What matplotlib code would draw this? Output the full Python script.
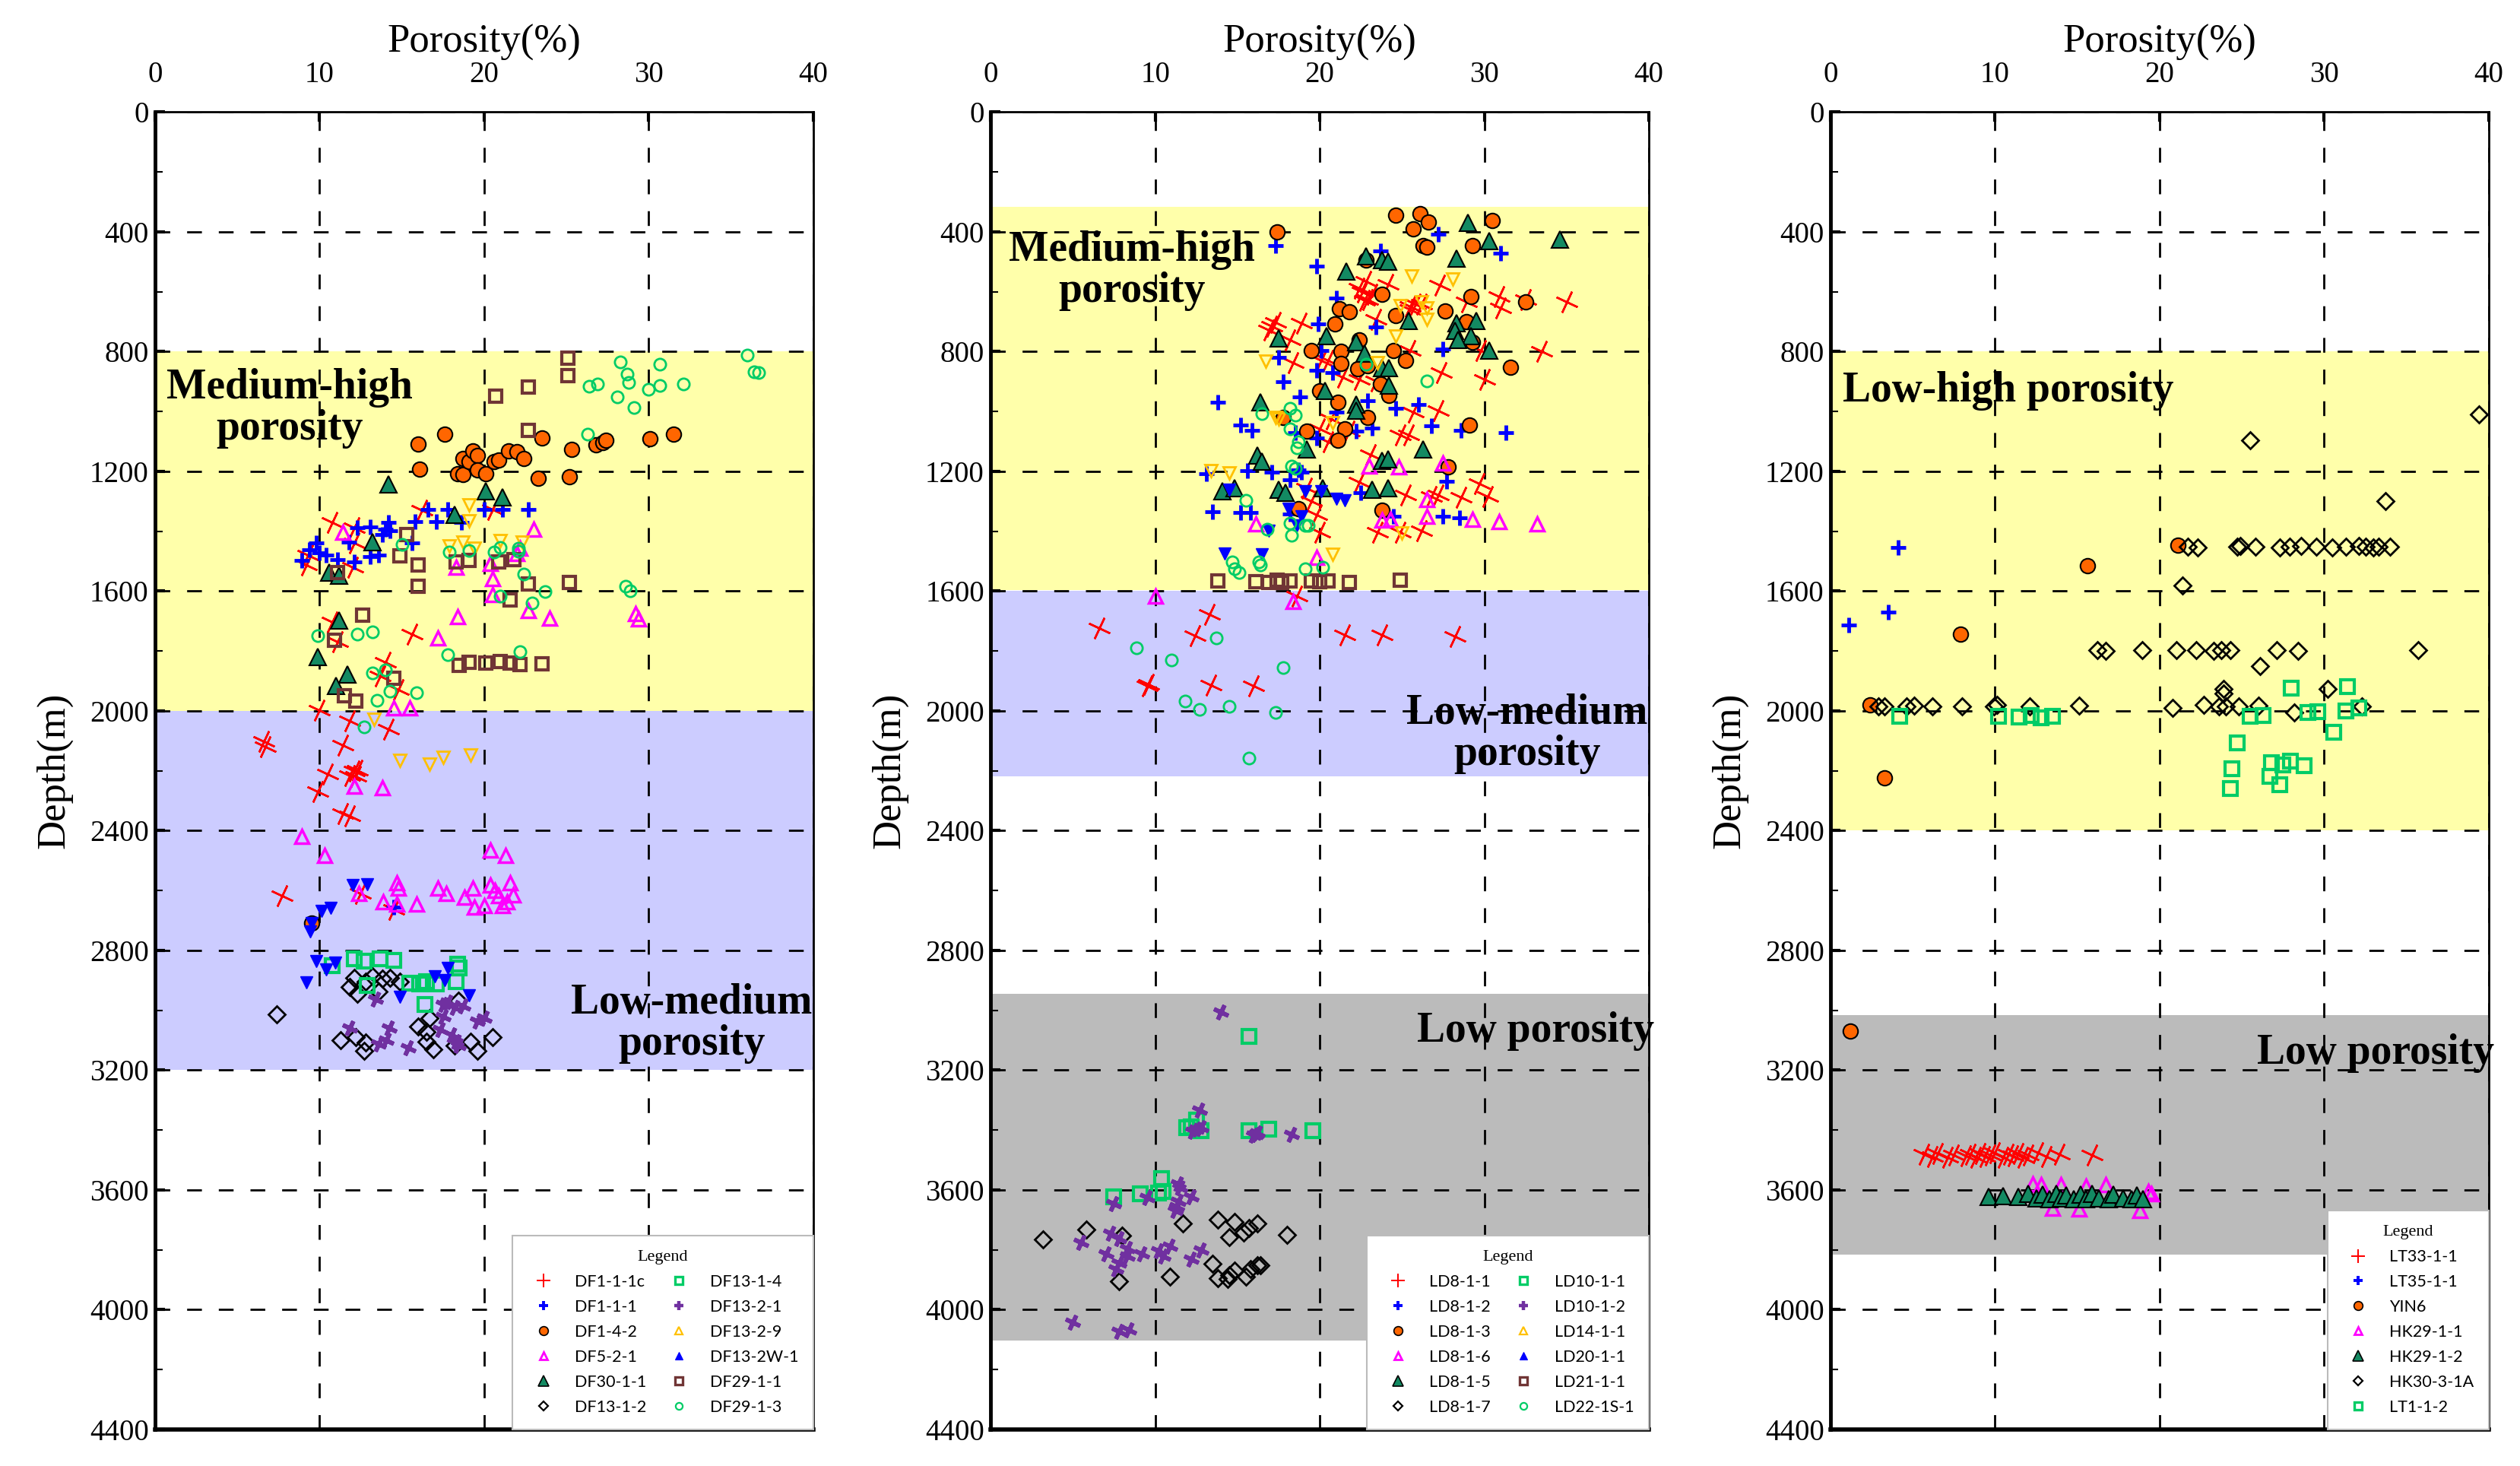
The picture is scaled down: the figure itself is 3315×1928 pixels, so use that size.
import numpy as np
import matplotlib
matplotlib.use('Agg')
import matplotlib.pyplot as plt
from matplotlib.lines import Line2D

plt.rcParams['font.family'] = ['Liberation Serif', 'DejaVu Serif']
plt.rcParams['lines.scale_dashes'] = False

# ---------------- panel 1 (DF wells) ----------------
df1_1_1c_por = [16.2, 20.5, 10.75, 12.1, 12.1, 9.3, 9.2, 12.0, 10.75, 11.1, 15.6, 14.0, 13.7, 14.8, 10.0, 11.85,
                14.2, 6.6, 6.7, 11.4, 10.5, 12.1, 11.85, 12.3, 12.2, 9.9, 11.4, 11.85, 7.7, 12.5, 14.5]
df1_1_1c_dep = [1330, 1328, 1371, 1389, 1439, 1480, 1512, 1521, 1702, 1770, 1743, 1838, 1884, 1929, 1997, 2033,
                2061, 2101, 2120, 2115, 2210, 2201, 2215, 2197, 2219, 2269, 2342, 2351, 2618, 2609, 2664]
df1_1_1_por = [16.6, 17.8, 20.0, 21.1, 22.7, 15.8, 17.1, 18.6, 12.3, 13.1, 14.2, 14.3, 13.8, 11.8, 15.6, 9.8, 9.4,
               10.0, 10.4, 11.1, 12.1, 13.1, 13.6, 8.9, 14.0, 14.5]
df1_1_1_dep = [1328, 1328, 1326, 1328, 1326, 1367, 1367, 1371, 1389, 1385, 1371, 1398, 1412, 1437, 1439, 1439, 1462,
               1471, 1480, 1494, 1503, 1485, 1480, 1496, 1394, 2655]
df1_4_2_por = [16.0, 17.6, 16.1, 18.4, 18.7, 18.7, 19.1, 19.3, 19.6, 19.6, 20.1, 20.6, 20.9, 21.5, 22.0, 22.4, 23.5,
               23.3, 25.2, 25.3, 26.8, 27.2, 27.4, 30.1, 31.5, 9.5]
df1_4_2_dep = [1108, 1075, 1192, 1208, 1211, 1156, 1167, 1131, 1147, 1196, 1208, 1167, 1163, 1131, 1135, 1158, 1088,
               1224, 1217, 1126, 1111, 1104, 1095, 1090, 1075, 2709]
df5_2_1_por = [11.4, 23.0, 18.3, 20.4, 20.5, 20.5, 22.2, 22.0, 18.4, 17.2, 22.7, 24.0, 29.2, 29.4, 14.5, 15.5, 12.1,
               13.8, 8.9, 10.3, 12.4, 13.85, 14.7, 14.8, 14.7, 15.9, 17.2, 17.7, 18.8, 19.3, 19.4, 20.0, 20.4, 21.3,
               20.4, 20.65, 20.9, 21.4, 21.6, 21.75, 21.1]
df5_2_1_dep = [1403, 1392, 1519, 1507, 1557, 1611, 1457, 1474, 1684, 1757, 1666, 1689, 1675, 1693, 1990, 1990, 2251,
               2256, 2419, 2482, 2609, 2637, 2573, 2591, 2646, 2646, 2591, 2609, 2623, 2591, 2655, 2650, 2464, 2482,
               2582, 2600, 2618, 2637, 2573, 2614, 2650]
df30_1_1_por = [14.2, 20.1, 21.1, 18.2, 13.2, 10.6, 11.2, 11.2, 9.9, 11.7, 11.0]
df30_1_1_dep = [1244, 1267, 1287, 1344, 1436, 1539, 1548, 1698, 1820, 1879, 1915]
df13_1_2_por = [7.4, 12.1, 11.85, 12.3, 13.2, 13.8, 14.3, 14.9, 12.8, 13.6, 11.3, 12.2, 12.7, 12.8, 16.0, 16.5, 16.9,
                16.7, 18.45, 18.2, 19.2, 19.6, 20.5, 16.5]
df13_1_2_dep = [3013, 2891, 2922, 2945, 2886, 2895, 2891, 2904, 2904, 2936, 3099, 3090, 3135, 3108, 3054, 3104, 3131,
                3027, 2968, 3117, 3104, 3135, 3090, 3072]
df13_1_4_por = [12.1, 12.7, 13.7, 14.5, 10.75, 12.9, 15.5, 16.1, 16.5, 17.1, 18.3, 18.4, 18.5, 16.4]
df13_1_4_dep = [2827, 2836, 2827, 2832, 2850, 2918, 2909, 2913, 2904, 2913, 2904, 2845, 2859, 2981]
df13_2_1_por = [13.4, 11.85, 14.25, 14.05, 13.6, 15.4, 17.5, 17.8, 18.2, 18.7, 17.5, 17.35, 18.0, 18.3, 19.6, 20.0, 18.45]
df13_2_1_dep = [2963, 3058, 3058, 3099, 3113, 3126, 2981, 2972, 2990, 2986, 3022, 3063, 3081, 3104, 3036, 3027, 3117]
df13_2_9_por = [19.1, 19.1, 18.7, 17.9, 19.4, 21.0, 22.3, 13.3, 14.9, 16.7, 17.5, 19.2]
df13_2_9_dep = [1312, 1365, 1435, 1448, 1457, 1430, 1437, 2029, 2165, 2179, 2156, 2147]
df13_2w_1_por = [12.0, 12.9, 10.1, 10.7, 9.5, 9.45, 9.8, 10.4, 10.95, 9.2, 14.9, 17.0, 17.6, 17.8, 19.1]
df13_2w_1_dep = [2582, 2578, 2668, 2659, 2709, 2736, 2836, 2863, 2841, 2907, 2954, 2886, 2900, 2859, 2950]
df29_1_1_por = [25.1, 25.1, 22.7, 20.7, 22.7, 15.3, 14.9, 16.0, 16.0, 18.3, 19.1, 20.9, 21.8, 22.7, 25.2, 21.6, 12.6,
                10.9, 14.5, 11.5, 12.2, 18.5, 19.1, 20.1, 21.0, 21.6, 22.2, 23.5, 11.1]
df29_1_1_dep = [822, 879, 919, 949, 1063, 1410, 1483, 1512, 1584, 1503, 1496, 1501, 1495, 1575, 1572, 1630, 1681,
                1763, 1891, 1949, 1967, 1847, 1838, 1841, 1834, 1840, 1845, 1843, 1539]
df29_1_3_por = [28.3, 30.7, 36.0, 36.4, 36.7, 28.7, 28.8, 26.4, 26.9, 28.1, 29.1, 30.0, 30.7, 32.1, 26.3, 15.0, 17.9,
                19.1, 20.6, 21.0, 22.1, 22.1, 22.4, 28.6, 28.9, 23.7, 21.0, 22.9, 9.9, 12.3, 13.2, 13.2, 14.0, 17.8,
                22.2, 14.3, 15.9, 13.5, 12.7]
df29_1_3_dep = [834, 842, 812, 868, 870, 875, 904, 916, 907, 951, 986, 927, 913, 909, 1075, 1445, 1469, 1464, 1468,
                1455, 1457, 1466, 1542, 1584, 1598, 1602, 1616, 1639, 1749, 1743, 1736, 1872, 1863, 1811, 1802, 1933,
                1938, 1965, 2054]

# ---------------- panel 2 (LD wells) ----------------
ld8_1_1_por = [17.1, 16.9, 17.3, 18.9, 18.2, 18.4, 22.4, 22.6, 22.9, 22.7, 23.2, 22.8, 23.4, 20.5, 20.1, 21.4, 22.4,
               23.4, 20.7, 20.0, 20.5, 21.8, 19.2, 19.5, 19.8, 20.0, 23.5, 22.4, 23.1,
               24.15, 27.3, 28.9, 30.9, 31.0, 32.5, 35.0, 25.5, 25.8, 25.5, 26.2, 27.4, 30.0, 33.5, 25.5, 27.2, 25.7,
               24.9, 25.4, 29.8, 29.7, 30.2, 25.2, 26.8, 27.2, 28.6, 26.2, 24.9,
               6.6, 13.3, 12.4, 18.6, 21.5, 23.8, 9.5, 9.6, 13.4, 16.0, 28.2]
ld8_1_1_dep = [714, 727, 701, 706, 761, 837, 587, 600, 625, 629, 608, 565, 693, 829, 829, 884, 892, 897, 1024, 1058,
               1100, 1066, 1257, 1300, 1346, 1402, 1402, 1236, 1143,
               574, 578, 633, 616, 654, 625, 633, 650, 642, 659, 642, 871, 892, 799, 795, 998, 1003, 1079, 1079, 795,
               1240, 1283, 1278, 1283, 1278, 1287, 1397, 1402,
               1724, 1677, 1749, 1617, 1745, 1745, 1915, 1910, 1913, 1915, 1750]
ld8_1_2_por = [17.3, 19.8, 21.0, 19.9, 23.4, 17.5, 20.1, 19.8, 20.8, 17.8, 18.8, 13.8, 15.2, 15.9, 21.0, 22.9, 23.2,
               22.2, 19.8, 18.5, 13.1, 15.6, 17.1, 18.2, 18.7, 18.9, 13.5, 15.2, 15.8, 18.2, 22.5, 23.7, 27.2, 31.0,
               27.5, 24.6, 26.0, 26.8, 28.6, 31.3, 27.7, 24.5, 27.5, 28.5]
ld8_1_2_dep = [447, 515, 621, 707, 717, 819, 795, 863, 871, 901, 952, 969, 1045, 1062, 1003, 964, 1054, 1066, 1088,
               1071, 1207, 1198, 1202, 1228, 1194, 1202, 1334, 1338, 1338, 1342, 1270, 464, 408, 470, 792, 990, 977,
               1047, 1064, 1071, 1234, 1351, 1351, 1355]
ld8_1_3_por = [17.4, 22.8, 23.8, 21.2, 21.8, 20.9, 22.4, 19.5, 21.3, 21.3, 22.3, 22.9, 20.0, 21.1, 22.9, 21.5, 21.1,
               19.2, 17.8, 18.7, 23.8, 23.7, 24.6, 26.1, 26.6, 25.7, 26.3, 26.5, 29.3, 30.5, 29.2, 27.6, 24.6, 32.5,
               28.9, 29.3, 24.5, 25.2, 31.6, 24.2, 29.1, 27.8]
ld8_1_3_dep = [400, 493, 608, 657, 667, 707, 761, 795, 799, 840, 856, 846, 931, 969, 1020, 1058, 1096, 1066, 1020,
               1325, 1330, 909, 345, 340, 368, 391, 445, 451, 447, 363, 616, 663, 680, 633, 700, 769, 795, 829, 851,
               947, 1045, 1184]
ld8_1_6_por = [23.0, 16.1, 19.8, 23.8, 24.8, 27.5, 26.5, 26.5, 24.3, 29.3, 30.9, 33.2, 10.0, 18.4]
ld8_1_6_dep = [1181, 1376, 1486, 1363, 1185, 1172, 1295, 1351, 1359, 1359, 1367, 1376, 1617, 1634]
ld8_1_5_por = [22.8, 21.6, 17.5, 20.4, 22.2, 22.7, 23.8, 20.3, 22.2, 22.2, 16.4, 19.2, 16.2, 16.5, 14.1, 14.8, 17.5,
               17.9, 20.2, 23.2, 23.8, 23.8, 29.0, 30.3, 34.6, 28.3, 24.15, 25.4, 28.3, 29.5, 28.2, 29.2, 28.4, 30.3,
               24.2, 24.2, 26.3, 24.15, 24.15]
ld8_1_5_dep = [481, 531, 756, 748, 769, 807, 854, 931, 977, 998, 969, 1126, 1147, 1168, 1266, 1257, 1261, 1270, 1257,
               1261, 1164, 493, 370, 430, 425, 489, 498, 697, 706, 697, 731, 748, 761, 795, 854, 914, 1126, 1160, 1257]
ld8_1_7_por = [3.2, 5.8, 8.0, 11.7, 13.8, 14.8, 16.2, 15.4, 14.5, 15.7, 18.0, 13.5, 13.8, 14.4, 14.8, 15.5, 15.8,
               16.2, 16.4, 14.5, 10.9, 7.8]
ld8_1_7_dep = [3766, 3732, 3753, 3711, 3698, 3707, 3711, 3741, 3758, 3728, 3749, 3847, 3894, 3898, 3868, 3889, 3864,
               3851, 3851, 3885, 3889, 3906]
ld10_1_1_por = [15.7, 11.9, 12.5, 12.8, 12.2, 15.7, 16.9, 19.6, 7.5, 9.1, 10.2, 10.4, 10.5]
ld10_1_1_dep = [3087, 3393, 3367, 3401, 3388, 3401, 3397, 3401, 3622, 3613, 3609, 3562, 3605]
ld10_1_2_por = [14.0, 12.7, 12.5, 12.3, 12.8, 16.1, 16.2, 16.0, 18.3, 11.4, 11.5, 12.2, 9.5, 7.5, 11.4, 11.2, 11.3,
                7.3, 7.8, 5.5, 7.0, 8.3, 8.3, 7.8, 7.6, 9.2, 10.2, 10.5, 10.9, 12.2, 12.8, 5.0, 7.8, 8.4]
ld10_1_2_dep = [3005, 3333, 3397, 3405, 3393, 3414, 3410, 3418, 3414, 3579, 3592, 3622, 3626, 3647, 3639, 3669, 3656,
                3745, 3762, 3775, 3813, 3796, 3821, 3843, 3864, 3813, 3804, 3821, 3787, 3830, 3800, 4042, 4072, 4068]
ld14_1_1_por = [16.7, 17.3, 17.5, 13.4, 14.5, 23.5, 20.8, 20.8, 25.6, 28.1, 24.9, 26.2, 26.5, 26.5, 24.6, 25.0]
ld14_1_1_dep = [833, 1020, 1024, 1198, 1206, 837, 1037, 1478, 548, 557, 646, 633, 654, 693, 748, 1406]
ld20_1_1_por = [14.5, 19.1, 20.1, 21.0, 21.5, 18.1, 18.9, 16.9, 14.2, 16.5, 18.6]
ld20_1_1_dep = [1262, 1266, 1266, 1291, 1296, 1325, 1351, 1397, 1474, 1478, 1380]
ld21_1_1_por = [13.8, 16.1, 16.9, 17.4, 17.7, 18.2, 19.5, 20.0, 20.5, 21.8, 24.9]
ld21_1_1_dep = [1565, 1568, 1570, 1562, 1572, 1566, 1565, 1568, 1566, 1570, 1562]
ld22_1s_1_por = [16.5, 18.2, 18.5, 18.2, 18.7, 18.6, 18.3, 18.5, 15.5, 16.8, 18.2, 18.3, 19.1, 19.3, 22.8, 14.7, 14.8,
                 15.1, 16.3, 16.4, 19.1, 20.2, 26.5, 8.85, 11.0, 13.7, 17.8, 11.8, 12.7, 14.5, 17.3, 15.7]
ld22_1s_1_dep = [1007, 990, 1011, 1058, 1100, 1122, 1181, 1189, 1296, 1393, 1372, 1414, 1380, 1380, 841, 1503, 1525,
                 1538, 1503, 1512, 1525, 1520, 898, 1789, 1830, 1756, 1855, 1966, 1995, 1984, 2004, 2157]

# ---------------- panel 3 ----------------
lt33_1_1_por = [5.7, 6.2, 6.5, 7.1, 7.5, 8.2, 8.5, 8.8, 9.1, 9.4, 9.7, 10.0, 10.5, 10.8, 11.1, 11.4, 11.7, 12.0, 12.6,
                13.1, 13.9, 15.9]
lt33_1_1_dep = [3480, 3488, 3478, 3490, 3482, 3486, 3480, 3492, 3478, 3488, 3482, 3476, 3490, 3480, 3486, 3478, 3490,
                3482, 3476, 3488, 3480, 3484]
lt35_1_1_por = [4.1, 3.5, 1.1]
lt35_1_1_dep = [1455, 1671, 1714]
yin6_por = [21.1, 15.6, 7.9, 2.4, 3.3, 1.2]
yin6_dep = [1446, 1516, 1744, 1980, 2223, 3070]
hk29_1_1_por = [12.3, 12.8, 14.0, 15.5, 16.7, 13.5, 15.1, 18.8, 19.3, 19.5]
hk29_1_1_dep = [3579, 3583, 3583, 3587, 3583, 3660, 3664, 3668, 3604, 3613]
hk29_1_2_por = [9.6, 10.5, 11.4, 12.0, 12.5, 12.9, 13.3, 13.7, 14.0, 14.3, 14.8, 15.2, 15.5, 15.9, 16.3, 16.9, 17.2,
                17.8, 18.3, 18.6, 19.0]
hk29_1_2_dep = [3622, 3620, 3622, 3612, 3628, 3615, 3630, 3612, 3628, 3618, 3630, 3615, 3630, 3612, 3628, 3630, 3615,
                3628, 3630, 3618, 3630]
hk30_3_1a_por = [39.4, 25.5, 33.7,
                 21.7, 22.3, 24.7, 24.9, 25.8, 27.3, 27.9, 28.6, 29.5, 30.5, 31.3, 32.1, 32.5, 33.0, 33.3, 34.0,
                 21.4,
                 16.2, 16.7, 18.95, 21.0, 22.2, 23.3, 23.75, 24.3, 27.1, 28.4, 35.7,
                 26.1, 23.9, 23.9, 30.2,
                 2.9, 3.3, 4.6, 5.1, 6.2, 8.0, 9.95, 10.1, 12.1, 15.1, 20.8, 22.7, 23.6, 24.0, 24.8, 26.0, 32.3,
                 28.2]
hk30_3_1a_dep = [1009, 1096, 1300,
                 1452, 1455, 1452, 1450, 1452, 1454, 1452, 1450, 1452, 1455, 1452, 1450, 1452, 1454, 1452, 1452,
                 1580,
                 1798, 1800, 1798, 1796, 1798, 1800, 1798, 1796, 1798, 1800, 1796,
                 1850, 1927, 1941, 1926,
                 1984, 1986, 1984, 1982, 1984, 1986, 1984, 1980, 1984, 1982, 1990, 1980, 1984, 1986, 1984, 1982, 1984,
                 2005]
lt1_1_2_por = [4.2, 10.2, 11.45, 12.2, 12.8, 13.5, 25.5, 26.3, 28.0, 31.4, 29.0, 29.6, 31.3, 32.1, 30.6, 24.7, 24.4,
               26.8, 27.5, 27.95, 28.8, 26.7, 24.3, 27.3]
lt1_1_2_dep = [2018, 2018, 2020, 2016, 2022, 2018, 2018, 2015, 1923, 1918, 2005, 2002, 2000, 1989, 2071, 2107, 2194,
               2173, 2180, 2168, 2182, 2218, 2259, 2246]

# marker styles (lm = marker shown in the legend box)
st = {
    'red': dict(marker=(4, 2, -25), ms=22, mfc='none', mec='#FF0000', mew=1.8, lm='+'),
    'blue': dict(marker='+', ms=14, mfc='none', mec='#0000FF', mew=3.5),
    'orange': dict(marker='o', ms=14, mfc='#FF6600', mec='k', mew=1.5),
    'magenta': dict(marker='^', ms=13, mfc='none', mec='#FF00FF', mew=2.5),
    'greentri': dict(marker='^', ms=16, mfc='#138A62', mec='k', mew=1.5),
    'diamond': dict(marker='D', ms=11, mfc='none', mec='k', mew=2),
    'greensq': dict(marker='s', ms=13, mfc='none', mec='#00CC66', mew=3),
    'purple': dict(marker=(4, 2, -25), ms=15, mfc='none', mec='#7030A0', mew=4, lm='+'),
    'yellow': dict(marker='v', ms=11, mfc='none', mec='#FFC000', mew=2, lm='^'),
    'bluetri': dict(marker='v', ms=12, mfc='#0000FF', mec='#0000FF', mew=1, lm='^'),
    'brown': dict(marker='s', ms=11, mfc='none', mec='#703535', mew=3),
    'greencirc': dict(marker='o', ms=11, mfc='none', mec='#00CC66', mew=2),
}

YEL = '#FFFFAA'
LAV = '#CCCCFF'
GRY = '#BBBBBB'


def draw(ax, x, y, key, label, handles):
    s = dict(st[key])
    lm = s.pop('lm', s['marker'])
    ax.plot(x, y, ls='none', zorder=3, **s)
    hs = dict(s)
    hs['marker'] = lm
    hs['ms'] = s['ms'] * 0.6
    hs['mew'] = s['mew'] * 0.8
    handles.append(Line2D([], [], ls='none', label=label, **hs))


def setup(ax):
    ax.set_xlim(0, 40)
    ax.set_ylim(4400, 0)
    ax.xaxis.tick_top()
    ax.xaxis.set_label_position('top')
    ax.set_xticks([0, 10, 20, 30, 40])
    ax.set_yticks(np.arange(0, 4401, 400))
    ax.set_yticks(np.arange(200, 4400, 400), minor=True)
    ax.set_axisbelow(True)
    ax.grid(True, which='major', color='k', lw=2, ls=(0, (14, 16)))
    ax.tick_params(which='major', direction='in', length=9, width=3, labelsize=28)
    ax.tick_params(axis='y', which='major', pad=6)
    ax.tick_params(axis='x', which='major', pad=22)
    ax.tick_params(which='minor', direction='in', length=7, width=1.5)
    ax.set_xlabel('Porosity(%)', fontsize=38, labelpad=8)
    ax.set_ylabel('Depth(m)', fontsize=38, labelpad=16)
    for sp in ax.spines.values():
        sp.set_linewidth(2)
    ax.spines['left'].set_linewidth(3.5)
    ax.spines['bottom'].set_linewidth(4)


def legend(ax, handles, ncol):
    leg = ax.legend(handles=handles, loc='lower right', bbox_to_anchor=(1, 0), ncol=ncol, title='Legend',
                    prop={'family': 'Lato', 'size': 15.5},
                    title_fontproperties={'family': 'Liberation Serif', 'size': 16},
                    fancybox=False, framealpha=1, edgecolor='#BBBBBB', borderaxespad=0,
                    columnspacing=1.0, handletextpad=0.9, labelspacing=0.6, borderpad=0.9)
    leg.get_frame().set_linewidth(1.5)
    leg.set_zorder(10)


def label(ax, x, y, s):
    ax.text(x, y, s, ha='center', va='center', fontsize=40, fontweight='bold', linespacing=1.05, zorder=5)


fig = plt.figure(figsize=(33.15, 19.28), dpi=100)
ax1 = fig.add_axes([0.0615, 0.0249, 0.2612, 0.8986])
ax2 = fig.add_axes([0.3931, 0.0249, 0.2612, 0.8986])
ax3 = fig.add_axes([0.7264, 0.0249, 0.2612, 0.8986])

# panel 1
setup(ax1)
ax1.axhspan(800, 2000, color=YEL, zorder=0, lw=0)
ax1.axhspan(2000, 3200, color=LAV, zorder=0, lw=0)
h1 = []
draw(ax1, df1_1_1c_por, df1_1_1c_dep, 'red', 'DF1-1-1c', h1)
draw(ax1, df1_1_1_por, df1_1_1_dep, 'blue', 'DF1-1-1', h1)
draw(ax1, df1_4_2_por, df1_4_2_dep, 'orange', 'DF1-4-2', h1)
draw(ax1, df5_2_1_por, df5_2_1_dep, 'magenta', 'DF5-2-1', h1)
draw(ax1, df30_1_1_por, df30_1_1_dep, 'greentri', 'DF30-1-1', h1)
draw(ax1, df13_1_2_por, df13_1_2_dep, 'diamond', 'DF13-1-2', h1)
draw(ax1, df13_1_4_por, df13_1_4_dep, 'greensq', 'DF13-1-4', h1)
draw(ax1, df13_2_1_por, df13_2_1_dep, 'purple', 'DF13-2-1', h1)
draw(ax1, df13_2_9_por, df13_2_9_dep, 'yellow', 'DF13-2-9', h1)
draw(ax1, df13_2w_1_por, df13_2w_1_dep, 'bluetri', 'DF13-2W-1', h1)
draw(ax1, df29_1_1_por, df29_1_1_dep, 'brown', 'DF29-1-1', h1)
draw(ax1, df29_1_3_por, df29_1_3_dep, 'greencirc', 'DF29-1-3', h1)
label(ax1, 8.2, 990, 'Medium-high\nporosity')
label(ax1, 32.6, 3045, 'Low-medium\nporosity')
legend(ax1, h1, 2)

# panel 2
setup(ax2)
ax2.axhspan(315, 1595, color=YEL, zorder=0, lw=0)
ax2.axhspan(1600, 2218, color=LAV, zorder=0, lw=0)
ax2.axhspan(2945, 4102, color=GRY, zorder=0, lw=0)
h2 = []
draw(ax2, ld8_1_1_por, ld8_1_1_dep, 'red', 'LD8-1-1', h2)
draw(ax2, ld8_1_2_por, ld8_1_2_dep, 'blue', 'LD8-1-2', h2)
draw(ax2, ld8_1_3_por, ld8_1_3_dep, 'orange', 'LD8-1-3', h2)
draw(ax2, ld8_1_6_por, ld8_1_6_dep, 'magenta', 'LD8-1-6', h2)
draw(ax2, ld8_1_5_por, ld8_1_5_dep, 'greentri', 'LD8-1-5', h2)
draw(ax2, ld8_1_7_por, ld8_1_7_dep, 'diamond', 'LD8-1-7', h2)
draw(ax2, ld10_1_1_por, ld10_1_1_dep, 'greensq', 'LD10-1-1', h2)
draw(ax2, ld10_1_2_por, ld10_1_2_dep, 'purple', 'LD10-1-2', h2)
draw(ax2, ld14_1_1_por, ld14_1_1_dep, 'yellow', 'LD14-1-1', h2)
draw(ax2, ld20_1_1_por, ld20_1_1_dep, 'bluetri', 'LD20-1-1', h2)
draw(ax2, ld21_1_1_por, ld21_1_1_dep, 'brown', 'LD21-1-1', h2)
draw(ax2, ld22_1s_1_por, ld22_1s_1_dep, 'greencirc', 'LD22-1S-1', h2)
label(ax2, 8.6, 530, 'Medium-high\nporosity')
label(ax2, 32.6, 2075, 'Low-medium\nporosity')
label(ax2, 33.1, 3069, 'Low porosity')
legend(ax2, h2, 2)

# panel 3
setup(ax3)
ax3.axhspan(800, 2400, color=YEL, zorder=0, lw=0)
ax3.axhspan(3015, 3815, color=GRY, zorder=0, lw=0)
h3 = []
draw(ax3, lt33_1_1_por, lt33_1_1_dep, 'red', 'LT33-1-1', h3)
draw(ax3, lt35_1_1_por, lt35_1_1_dep, 'blue', 'LT35-1-1', h3)
draw(ax3, yin6_por, yin6_dep, 'orange', 'YIN6', h3)
draw(ax3, hk29_1_1_por, hk29_1_1_dep, 'magenta', 'HK29-1-1', h3)
draw(ax3, hk29_1_2_por, hk29_1_2_dep, 'greentri', 'HK29-1-2', h3)
draw(ax3, hk30_3_1a_por, hk30_3_1a_dep, 'diamond', 'HK30-3-1A', h3)
draw(ax3, lt1_1_2_por, lt1_1_2_dep, 'greensq', 'LT1-1-2', h3)
label(ax3, 10.8, 931, 'Low-high porosity')
label(ax3, 33.1, 3144, 'Low porosity')
legend(ax3, h3, 1)

fig.savefig('out.png', dpi=100)
